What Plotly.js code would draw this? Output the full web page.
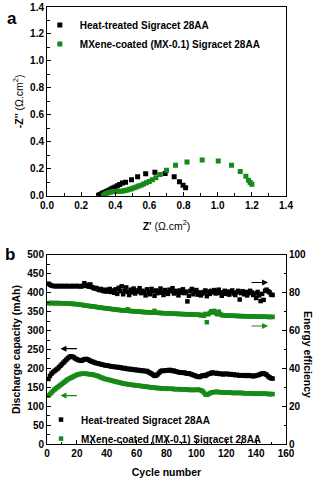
<!DOCTYPE html>
<html>
<head>
<meta charset="utf-8">
<script src="https://cdn.plot.ly/plotly-3.0.1.min.js"></script>
<style>
html,body{margin:0;padding:0;background:#fff;}
#chart{width:317px;height:478px;}
</style>
</head>
<body>
<div id="chart"></div>
<script>
// ---------- Panel a: Nyquist data ----------
var heatZre = [0.302,0.306,0.312,0.318,0.325,0.332,0.340,0.348,0.357,0.366,0.376,0.387,0.399,0.412,0.426,0.442,0.460,0.495,0.531,0.578,0.632,0.692,0.745,0.776,0.797,0.812];
var heatZim = [0.002,0.006,0.010,0.014,0.018,0.022,0.027,0.032,0.037,0.043,0.050,0.057,0.065,0.074,0.084,0.094,0.100,0.118,0.142,0.163,0.174,0.165,0.141,0.104,0.078,0.060];
var mxZre = [0.330,0.336,0.343,0.351,0.360,0.370,0.381,0.393,0.406,0.419,0.432,0.445,0.458,0.471,0.484,0.497,0.510,0.523,0.537,0.551,0.566,0.582,0.599,0.617,0.638,0.662,0.700,0.753,0.820,0.909,1.003,1.081,1.132,1.165,1.180,1.190,1.200];
var mxZim = [0.002,0.008,0.013,0.018,0.022,0.026,0.029,0.031,0.032,0.033,0.034,0.036,0.039,0.043,0.048,0.053,0.059,0.065,0.072,0.079,0.087,0.096,0.106,0.118,0.134,0.158,0.189,0.226,0.250,0.265,0.258,0.226,0.181,0.144,0.115,0.098,0.085];

// ---------- Panel b: cycling data ----------
var cycles = [1,2,3,4,5,6,7,8,9,10,11,12,13,14,15,16,17,18,19,20,21,22,23,24,25,26,27,28,29,30,
31,32,33,34,35,36,37,38,39,40,41,42,43,44,45,46,47,48,49,50,51,52,53,54,55,56,57,58,59,60,
61,62,63,64,65,66,67,68,69,70,71,72,73,74,75,76,77,78,79,80,81,82,83,84,85,86,87,88,89,90,
91,92,93,94,95,96,97,98,99,100,101,102,103,104,105,106,107,108,109,110,111,112,113,114,115,116,117,118,119,120,
121,122,123,124,125,126,127,128,129,130,131,132,133,134,135,136,137,138,139,140,141,142,143,144,145,146,147,148,149,150,151];

var heatCap = [172,180,186,190,193,196,199,203,207,211,215,219,223,227,230,232,
231,229,226,224,222,221,220,222,224,225,224,222,220,218,
217,215,214,213,212,211,210,209,208,207,
207,206,205,205,204,203,204,202,203,201,
200,201,199,198,199,197,198,196,197,195,
196,194,195,193,194,192,193,190,188,186,
183,180,181,184,188,192,194,193,194,195,
194,196,195,193,194,192,191,190,189,189,
188,189,187,186,187,185,184,182,181,179,
178,177,179,181,182,180,183,185,186,188,
189,187,188,186,187,185,186,184,185,186,
185,184,185,183,184,182,183,182,181,182,
181,182,180,181,182,180,181,179,180,181,
182,183,185,186,187,185,183,179,176,174,173];

var mxCap = [128,132,136,140,144,147,150,153,156,159,
162,165,168,171,173,175,177,179,181,183,
184,185,186,186,186,186,185,185,184,184,
183,182,181,180,178,176,175,173,172,171,
170,169,168,167,166,165,164,163,162,161,
160,159,159,158,157,157,156,156,155,155,
154,154,153,153,152,152,151,151,150,150,
149,149,148,148,148,147,147,147,147,146,
146,146,146,146,145,145,145,145,145,144,
144,144,144,144,143,143,143,143,143,143,
144,143,142,140,136,131,130,132,134,136,
137,137,138,138,137,137,137,136,136,136,
136,136,136,135,135,135,135,135,135,135,
135,134,134,134,134,134,134,133,133,133,
133,133,133,133,133,133,133,132,132,132,132];

var heatEE = [84.8,84.2,83.8,83.6,83.5,83.4,83.6,83.5,83.4,83.6,
83.5,83.4,83.6,83.5,83.4,83.5,83.6,83.4,83.5,83.6,
83.4,83.5,83.3,83.6,85.0,84.2,83.6,83.2,84.4,83.0,
82.6,82.2,82.5,81.8,81.4,82.0,81.2,80.8,81.6,80.6,
81.4,82.0,80.4,81.2,80.0,81.8,79.4,82.6,80.8,83.4,
79.2,81.0,82.8,80.4,78.8,81.6,80.2,82.2,79.6,81.2,
80.6,82.4,79.8,81.0,80.2,78.6,81.8,80.4,79.2,82.0,
80.8,78.4,81.2,79.8,80.6,82.2,80.0,78.8,81.4,80.2,
79.4,81.6,80.8,82.4,79.6,81.0,80.4,78.6,81.2,80.0,
81.8,79.8,80.6,75.4,78.4,81.0,82.0,79.2,80.4,81.4,
79.0,80.2,78.6,79.6,80.4,81.2,78.2,80.6,79.4,81.0,
80.2,81.4,79.6,80.8,81.6,79.8,78.4,80.2,81.0,79.4,
80.6,79.0,80.4,81.2,79.6,78.8,80.2,81.0,76.4,79.8,
80.8,79.2,80.4,78.6,79.8,81.0,80.2,78.8,79.6,77.2,
80.4,78.6,75.6,79.4,76.2,81.0,81.6,80.8,80.2,79.0,78.8];

var mxEE = [74.4,74.6,74.5,74.6,74.4,74.5,74.6,74.4,74.5,74.4,
74.4,74.3,74.4,74.2,74.3,74.2,74.1,74.0,74.1,73.9,
73.8,73.7,73.6,73.5,73.3,73.2,73.1,73.0,72.9,72.8,
72.7,72.6,72.5,72.3,72.2,72.1,72.0,71.9,71.8,71.7,
71.6,71.5,71.4,71.3,71.2,71.1,71.0,70.9,70.8,70.7,
70.7,70.6,70.5,71.2,70.4,70.3,70.3,70.2,70.1,70.1,
70.0,70.0,69.9,69.8,69.8,69.7,69.7,69.6,69.6,69.5,
69.5,70.4,69.4,69.4,69.3,69.3,69.2,69.2,69.1,69.1,
69.1,69.0,69.0,68.9,68.9,68.9,68.8,68.8,68.8,68.7,
68.7,68.7,68.6,68.6,68.6,68.5,68.5,68.5,68.4,68.4,
68.4,68.3,68.0,68.3,67.8,68.8,64.4,68.6,69.4,70.2,
69.6,70.4,69.2,68.6,70.0,68.8,68.2,68.1,68.0,68.0,
67.9,67.9,67.9,67.8,67.8,67.8,67.7,67.7,67.7,67.6,
67.6,67.6,67.6,67.5,67.5,67.5,67.5,67.4,67.4,67.4,
67.4,67.4,67.3,67.3,67.3,67.3,67.3,67.2,67.2,67.2,67.2];

var seriesNames = ['Heat-treated Sigracet 28AA', 'MXene-coated (MX-0.1) Sigracet 28AA'];

// ---------- Styling ----------
var BLACK = '#000000';
var GREEN = '#168a16';
var FONT = 'Liberation Sans, Arial, Helvetica, sans-serif';
var tickFont = {family: FONT, size: 10, color: '#000', weight: 'bold'};
var titleFont = {family: FONT, size: 10.5, color: '#000', weight: 'bold'};
var legFont = {family: FONT, size: 10, color: '#000', weight: 'bold'};

var traces = [
  {x: heatZre, y: heatZim, type: 'scatter', mode: 'markers', name: seriesNames[0],
   marker: {symbol: 'square', size: 5, color: BLACK}, xaxis: 'x', yaxis: 'y', legend: 'legend2'},
  {x: mxZre, y: mxZim, type: 'scatter', mode: 'markers', name: seriesNames[1],
   marker: {symbol: 'square', size: 5, color: GREEN}, xaxis: 'x', yaxis: 'y', legend: 'legend2'},
  {x: cycles, y: heatCap, type: 'scatter', mode: 'markers', name: seriesNames[0],
   marker: {symbol: 'square', size: 4.5, color: BLACK}, xaxis: 'x2', yaxis: 'y2', legend: 'legend3'},
  {x: cycles, y: mxCap, type: 'scatter', mode: 'markers', name: seriesNames[1],
   marker: {symbol: 'square', size: 4.5, color: GREEN}, xaxis: 'x2', yaxis: 'y2', legend: 'legend3'},
  {x: cycles, y: heatEE, type: 'scatter', mode: 'markers', name: seriesNames[0], showlegend: false,
   marker: {symbol: 'square', size: 4.5, color: BLACK}, xaxis: 'x2', yaxis: 'y3', legend: 'legend3'},
  {x: cycles, y: mxEE, type: 'scatter', mode: 'markers', name: seriesNames[1], showlegend: false,
   marker: {symbol: 'square', size: 4.5, color: GREEN}, xaxis: 'x2', yaxis: 'y3', legend: 'legend3'}
];

function axisBase(extra) {
  var a = {
    showgrid: false, zeroline: false, showline: true, linecolor: '#000', linewidth: 1,
    ticks: 'inside', ticklen: 4, tickwidth: 1, tickcolor: '#000',
    tickfont: tickFont, fixedrange: true
  };
  for (var k in extra) a[k] = extra[k];
  return a;
}

var layout = {
  width: 317, height: 478,
  margin: {l: 46.5, r: 30.5, t: 6.5, b: 34},
  paper_bgcolor: '#fff', plot_bgcolor: '#fff',
  font: {family: FONT, color: '#000'},
  xaxis: axisBase({domain: [0, 1], anchor: 'y', range: [0, 1.4], dtick: 0.2, tickformat: '.1f', mirror: true,
    minor: {ticks: 'inside', ticklen: 2.5, dtick: 0.1, tickcolor: '#000'},
    title: {text: "<b>Z'</b> (Ω.cm<sup>2</sup>)", font: {family: FONT, size: 10.5, color: '#000'}, standoff: 12}}),
  yaxis: axisBase({domain: [0.568, 1.0], anchor: 'x', range: [0, 1.4], dtick: 0.2, tickformat: '.1f', mirror: true,
    minor: {ticks: 'inside', ticklen: 2.5, dtick: 0.1, tickcolor: '#000'},
    title: {text: "<b>-Z''</b> (Ω.cm<sup>2</sup>)", font: {family: FONT, size: 10.5, color: '#000'}, standoff: 4}}),
  xaxis2: axisBase({domain: [0, 1], anchor: 'y2', range: [0, 160], dtick: 20, mirror: true,
    minor: {ticks: 'inside', ticklen: 2.5, dtick: 10, tickcolor: '#000'},
    title: {text: 'Cycle number', font: titleFont, standoff: 10}}),
  yaxis2: axisBase({domain: [0, 0.4327], anchor: 'x2', range: [0, 500], dtick: 50,
    minor: {ticks: 'inside', ticklen: 2.5, dtick: 25, tickcolor: '#000'},
    title: {text: 'Discharge capacity (mAh)', font: titleFont, standoff: 4}}),
  yaxis3: axisBase({overlaying: 'y2', side: 'right', anchor: 'x2', range: [0, 100], dtick: 20,
    minor: {ticks: 'inside', ticklen: 2.5, dtick: 10, tickcolor: '#000'}}),
  legend2: {x: -0.03, y: 0.992, xanchor: 'left', yanchor: 'top', bgcolor: 'rgba(0,0,0,0)',
    font: legFont, tracegroupgap: 0, traceorder: 'normal', itemwidth: 30},
  legend3: {x: -0.025, y: 0.089, xanchor: 'left', yanchor: 'top', bgcolor: 'rgba(0,0,0,0)',
    font: legFont, tracegroupgap: 0, traceorder: 'normal', itemwidth: 30},
  annotations: [
    {text: '<b>a</b>', xref: 'paper', yref: 'paper', x: -0.175, y: 1.0, xanchor: 'left', yanchor: 'top',
     showarrow: false, font: {family: FONT, size: 17, color: '#000'}},
    {text: '<b>b</b>', xref: 'paper', yref: 'paper', x: -0.185, y: 0.46, xanchor: 'left', yanchor: 'top',
     showarrow: false, font: {family: FONT, size: 17, color: '#000'}},
    {text: '<b>Energy efficiency</b>', xref: 'paper', yref: 'paper', x: 1.09, y: 0.205,
     xanchor: 'center', yanchor: 'middle', textangle: 90, showarrow: false,
     font: {family: FONT, size: 10.5, color: '#000'}},
    // arrows
    {x: 148, y: 427, xref: 'x2', yref: 'y2', ax: -18, ay: 0, text: '', showarrow: true,
     arrowhead: 2, arrowsize: 1, arrowwidth: 1.2, arrowcolor: BLACK},
    {x: 148, y: 312, xref: 'x2', yref: 'y2', ax: -18, ay: 0, text: '', showarrow: true,
     arrowhead: 2, arrowsize: 1, arrowwidth: 1.2, arrowcolor: GREEN},
    {x: 9, y: 252, xref: 'x2', yref: 'y2', ax: 18, ay: 0, text: '', showarrow: true,
     arrowhead: 2, arrowsize: 1, arrowwidth: 1.2, arrowcolor: BLACK},
    {x: 9, y: 128, xref: 'x2', yref: 'y2', ax: 18, ay: 0, text: '', showarrow: true,
     arrowhead: 2, arrowsize: 1, arrowwidth: 1.2, arrowcolor: GREEN}
  ]
};

Plotly.newPlot('chart', traces, layout, {staticPlot: true, displayModeBar: false});
</script>
</body>
</html>
